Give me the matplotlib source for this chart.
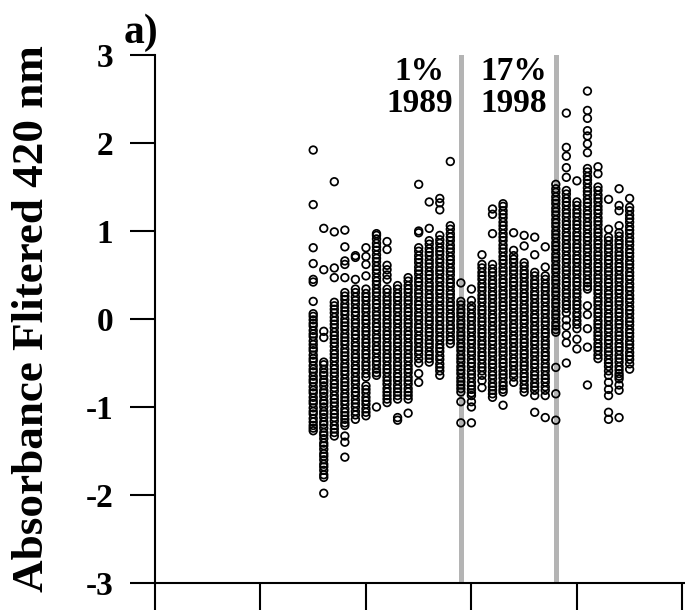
import matplotlib
matplotlib.use("Agg")
import matplotlib.pyplot as plt

years = list(range(1975, 2006))

v1975 = [1.92, 1.30, 0.81, 0.63, 0.45, 0.42, 0.20,
         0.06, 0.03, -0.01, -0.05, -0.08, -0.13, -0.17, -0.20, -0.25, -0.29, -0.33, -0.36, -0.41, -0.45, -0.48,
         -0.53, -0.57, -0.60, -0.65, -0.69, -0.72, -0.77, -0.81, -0.84, -0.89, -0.93, -0.96, -1.01, -1.05, -1.08,
         -1.13, -1.17, -1.21, -1.24, -1.27]
v1976 = [1.03, 0.56, -0.14, -0.21, -1.98,
         -0.49, -0.52, -0.57, -0.61, -0.64, -0.69, -0.72, -0.76, -0.81, -0.84, -0.88, -0.93, -0.96, -1.00, -1.05,
         -1.08, -1.12, -1.17, -1.20, -1.24, -1.29, -1.32, -1.36, -1.41, -1.44, -1.48, -1.53, -1.56, -1.60, -1.65,
         -1.68, -1.72, -1.77, -1.80]
v1977 = [1.56, 0.99, 0.58, 0.47,
         0.19, 0.15, 0.11, 0.07, 0.02, -0.02, -0.06, -0.10, -0.15, -0.19, -0.23, -0.27, -0.31, -0.36, -0.40, -0.44,
         -0.48, -0.53, -0.57, -0.61, -0.65, -0.70, -0.74, -0.78, -0.82, -0.87, -0.91, -0.95, -0.99, -1.04, -1.08,
         -1.12, -1.16, -1.21, -1.25, -1.29, -1.33]
v1978 = [1.01, 0.82, 0.66, 0.62, 0.47, -1.33, -1.40, -1.57,
         0.30, 0.26, 0.22, 0.17, 0.13, 0.09, 0.05, 0.00, -0.04, -0.08, -0.12, -0.17, -0.21, -0.25, -0.29, -0.34,
         -0.38, -0.42, -0.46, -0.51, -0.55, -0.59, -0.63, -0.68, -0.72, -0.76, -0.80, -0.85, -0.89, -0.93, -0.97,
         -1.02, -1.06, -1.10, -1.14, -1.18, -1.21]
v1979 = [0.72, 0.70, 0.45,
         0.34, 0.30, 0.25, 0.21, 0.17, 0.12, 0.08, 0.04, -0.01, -0.05, -0.09, -0.14, -0.18, -0.22, -0.27, -0.31,
         -0.35, -0.40, -0.44, -0.48, -0.53, -0.57, -0.61, -0.66, -0.70, -0.74, -0.79, -0.83, -0.87, -0.92, -0.96,
         -1.00, -1.05, -1.09, -1.14]
v1980 = [0.81, 0.71, 0.62, 0.49,
         0.34, 0.29, 0.25, 0.21, 0.16, 0.12, 0.08, 0.03, -0.01, -0.05, -0.10, -0.14, -0.18, -0.23, -0.27, -0.31,
         -0.36, -0.40, -0.44, -0.49, -0.53, -0.57, -0.62, -0.66, -0.76, -0.80, -0.84, -0.89, -0.93, -0.97, -1.02,
         -1.06, -1.10]
v1981 = [0.97, -1.00,
         0.95, 0.91, 0.86, 0.82, 0.78, 0.73, 0.69, 0.65, 0.60, 0.56, 0.52, 0.47, 0.43, 0.39, 0.34, 0.30, 0.26, 0.21,
         0.17, 0.13, 0.08, 0.04, 0.00, -0.05, -0.09, -0.13, -0.18, -0.22, -0.26, -0.31, -0.35, -0.39, -0.44, -0.48,
         -0.52, -0.57, -0.61, -0.64]
v1982 = [0.88, 0.79, 0.61, 0.56, 0.50, 0.45,
         0.34, 0.30, 0.25, 0.21, 0.17, 0.12, 0.08, 0.04, -0.01, -0.05, -0.09, -0.14, -0.18, -0.22, -0.27, -0.31,
         -0.35, -0.40, -0.44, -0.48, -0.53, -0.57, -0.61, -0.66, -0.70, -0.74, -0.79, -0.83, -0.87, -0.91, -0.95]
v1983 = [-1.12, -1.15,
         0.38, 0.34, 0.29, 0.25, 0.21, 0.16, 0.12, 0.08, 0.03, -0.01, -0.05, -0.10, -0.14, -0.18, -0.23, -0.27,
         -0.31, -0.36, -0.40, -0.44, -0.49, -0.53, -0.57, -0.62, -0.66, -0.70, -0.75, -0.79, -0.83, -0.87, -0.91]
v1984 = [-1.07,
         0.47, 0.43, 0.38, 0.34, 0.30, 0.25, 0.21, 0.17, 0.12, 0.08, 0.04, -0.01, -0.05, -0.09, -0.14, -0.18, -0.22,
         -0.27, -0.31, -0.35, -0.40, -0.44, -0.48, -0.53, -0.57, -0.61, -0.66, -0.70, -0.74, -0.79, -0.83, -0.87,
         -0.91]
v1985 = [1.53, 1.00, 0.98, -0.62, -0.72,
         0.81, 0.77, 0.72, 0.68, 0.64, 0.59, 0.55, 0.51, 0.46, 0.42, 0.38, 0.33, 0.29, 0.25, 0.20, 0.16, 0.12, 0.07,
         0.03, -0.01, -0.06, -0.10, -0.14, -0.19, -0.23, -0.27, -0.32, -0.36, -0.40, -0.45, -0.50]
v1986 = [1.33, 1.03,
         0.89, 0.85, 0.80, 0.76, 0.72, 0.67, 0.63, 0.59, 0.54, 0.50, 0.46, 0.41, 0.37, 0.33, 0.28, 0.24, 0.20, 0.15,
         0.11, 0.07, 0.02, -0.02, -0.06, -0.11, -0.15, -0.19, -0.24, -0.28, -0.32, -0.37, -0.41, -0.45, -0.49]
v1987 = [1.37, 1.32, 1.24,
         0.95, 0.90, 0.86, 0.81, 0.77, 0.73, 0.68, 0.64, 0.59, 0.55, 0.51, 0.46, 0.42, 0.37, 0.33, 0.29, 0.24, 0.20,
         0.15, 0.11, 0.07, 0.02, -0.02, -0.07, -0.11, -0.15, -0.20, -0.24, -0.29, -0.33, -0.37, -0.42, -0.46, -0.51,
         -0.55, -0.59, -0.64]
v1988 = [1.79,
         1.06, 1.02, 0.97, 0.93, 0.89, 0.84, 0.80, 0.76, 0.71, 0.67, 0.63, 0.58, 0.54, 0.50, 0.45, 0.41, 0.37, 0.32,
         0.28, 0.24, 0.19, 0.15, 0.11, 0.06, 0.02, -0.02, -0.07, -0.11, -0.15, -0.20, -0.24, -0.28]
v1989 = [0.41, -0.94, -1.18,
         0.20, 0.16, 0.11, 0.07, 0.03, -0.02, -0.06, -0.10, -0.15, -0.19, -0.23, -0.28, -0.32, -0.36, -0.41, -0.45,
         -0.49, -0.54, -0.58, -0.62, -0.67, -0.71, -0.75, -0.79, -0.83]
v1990 = [0.34, 0.21, -0.94, -1.00, -1.18,
         0.15, 0.11, 0.06, 0.02, -0.02, -0.07, -0.11, -0.15, -0.20, -0.24, -0.28, -0.33, -0.37, -0.41, -0.46, -0.50,
         -0.54, -0.59, -0.63, -0.67, -0.72, -0.76, -0.80, -0.84, -0.87]
v1991 = [0.73, -0.78,
         0.62, 0.58, 0.53, 0.49, 0.45, 0.40, 0.36, 0.32, 0.27, 0.23, 0.19, 0.14, 0.10, 0.06, 0.01, -0.03, -0.07,
         -0.12, -0.16, -0.20, -0.25, -0.29, -0.33, -0.38, -0.42, -0.46, -0.51, -0.55, -0.59, -0.64, -0.70]
v1992 = [1.25, 1.19, 0.97,
         0.62, 0.57, 0.53, 0.49, 0.44, 0.40, 0.36, 0.31, 0.27, 0.23, 0.18, 0.14, 0.10, 0.05, 0.01, -0.03, -0.08,
         -0.12, -0.16, -0.21, -0.25, -0.29, -0.34, -0.38, -0.42, -0.47, -0.51, -0.55, -0.60, -0.64, -0.68, -0.73,
         -0.77, -0.81, -0.85, -0.89]
v1993 = [1.31, -0.98,
         1.28, 1.23, 1.19, 1.15, 1.10, 1.06, 1.02, 0.97, 0.93, 0.89, 0.84, 0.80, 0.76, 0.71, 0.67, 0.63, 0.58, 0.54,
         0.50, 0.45, 0.41, 0.37, 0.32, 0.28, 0.24, 0.19, 0.15, 0.11, 0.06, 0.02, -0.02, -0.07, -0.11, -0.15, -0.20,
         -0.24, -0.28, -0.33, -0.37, -0.41, -0.46, -0.50, -0.54, -0.59, -0.63, -0.67, -0.72, -0.76, -0.80, -0.83]
v1994 = [0.98, 0.78, 0.72,
         0.68, 0.64, 0.59, 0.55, 0.51, 0.46, 0.42, 0.38, 0.33, 0.29, 0.25, 0.20, 0.16, 0.12, 0.07, 0.03, -0.01,
         -0.06, -0.10, -0.14, -0.19, -0.23, -0.27, -0.32, -0.36, -0.40, -0.45, -0.49, -0.53, -0.58, -0.62, -0.66,
         -0.72]
v1995 = [0.95, 0.83,
         0.64, 0.60, 0.55, 0.51, 0.47, 0.42, 0.38, 0.34, 0.29, 0.25, 0.21, 0.16, 0.12, 0.08, 0.03, -0.01, -0.05,
         -0.10, -0.14, -0.18, -0.23, -0.27, -0.31, -0.36, -0.40, -0.44, -0.49, -0.53, -0.57, -0.62, -0.66, -0.70,
         -0.75, -0.79, -0.83]
v1996 = [0.93, 0.73, -1.06,
         0.53, 0.49, 0.44, 0.40, 0.36, 0.31, 0.27, 0.23, 0.18, 0.14, 0.10, 0.05, 0.01, -0.03, -0.08, -0.12, -0.16,
         -0.21, -0.25, -0.29, -0.34, -0.38, -0.42, -0.47, -0.51, -0.55, -0.60, -0.64, -0.68, -0.73, -0.77, -0.81,
         -0.87]
v1997 = [0.82, 0.59, -1.12,
         0.49, 0.45, 0.40, 0.36, 0.32, 0.27, 0.23, 0.19, 0.14, 0.10, 0.06, 0.01, -0.03, -0.07, -0.12, -0.16, -0.20,
         -0.25, -0.29, -0.33, -0.38, -0.42, -0.46, -0.51, -0.55, -0.59, -0.64, -0.68, -0.72, -0.77, -0.81, -0.87]
v1998 = [1.53, -0.55, -0.85, -1.15,
         1.48, 1.44, 1.39, 1.35, 1.31, 1.26, 1.22, 1.18, 1.13, 1.09, 1.05, 1.00, 0.96, 0.92, 0.87, 0.83, 0.79, 0.74,
         0.70, 0.66, 0.61, 0.57, 0.53, 0.48, 0.44, 0.40, 0.35, 0.31, 0.27, 0.22, 0.18, 0.14, 0.09, 0.05, 0.01,
         -0.04, -0.08, -0.12, -0.15]
v1999 = [2.34, 1.95, 1.85, 1.72, 1.61, -0.01, -0.08, -0.18, -0.27, -0.50,
         1.46, 1.42, 1.37, 1.33, 1.29, 1.24, 1.20, 1.16, 1.11, 1.07, 1.03, 0.98, 0.94, 0.90, 0.85, 0.81, 0.77, 0.72,
         0.68, 0.64, 0.59, 0.55, 0.51, 0.46, 0.42, 0.38, 0.33, 0.29, 0.25, 0.20, 0.16, 0.12, 0.07]
v2000 = [1.57, -0.23, -0.34,
         1.33, 1.29, 1.24, 1.20, 1.16, 1.11, 1.07, 1.03, 0.98, 0.94, 0.90, 0.85, 0.81, 0.77, 0.72, 0.68, 0.64, 0.59,
         0.55, 0.51, 0.46, 0.42, 0.38, 0.33, 0.29, 0.25, 0.20, 0.16, 0.12, 0.07, 0.03, -0.02, -0.06, -0.11]
v2001 = [2.59, 2.37, 2.28, 2.14, 2.08, 1.99, 1.89, 0.15, 0.05, -0.11, -0.32, -0.75,
         1.71, 1.67, 1.62, 1.58, 1.54, 1.49, 1.45, 1.41, 1.36, 1.32, 1.28, 1.23, 1.19, 1.15, 1.10, 1.06, 1.02, 0.97,
         0.93, 0.89, 0.84, 0.80, 0.76, 0.71, 0.67, 0.63, 0.58, 0.54, 0.50, 0.45, 0.41, 0.37, 0.34]
v2002 = [1.73, 1.65,
         1.50, 1.46, 1.41, 1.37, 1.33, 1.28, 1.24, 1.20, 1.15, 1.11, 1.07, 1.02, 0.98, 0.94, 0.89, 0.85, 0.81, 0.76,
         0.72, 0.68, 0.63, 0.59, 0.55, 0.50, 0.46, 0.42, 0.37, 0.33, 0.29, 0.24, 0.20, 0.16, 0.11, 0.07, 0.03,
         -0.02, -0.06, -0.10, -0.15, -0.19, -0.23, -0.28, -0.32, -0.36, -0.41, -0.45]
v2003 = [1.36, 1.02, -0.72, -0.80, -0.87, -1.06, -1.14,
         0.93, 0.89, 0.84, 0.80, 0.76, 0.71, 0.67, 0.63, 0.58, 0.54, 0.50, 0.45, 0.41, 0.37, 0.32, 0.28, 0.24, 0.19,
         0.15, 0.11, 0.06, 0.02, -0.02, -0.07, -0.11, -0.15, -0.20, -0.24, -0.28, -0.33, -0.37, -0.41, -0.46, -0.50,
         -0.54, -0.59, -0.64]
v2004 = [1.48, 1.29, 1.23, 1.06, -0.68, -0.75, -0.81, -1.12,
         0.98, 0.94, 0.89, 0.85, 0.81, 0.76, 0.72, 0.68, 0.63, 0.59, 0.55, 0.50, 0.46, 0.42, 0.37, 0.33, 0.29, 0.24,
         0.20, 0.16, 0.11, 0.07, 0.03, -0.02, -0.06, -0.10, -0.15, -0.19, -0.23, -0.28, -0.32, -0.36, -0.41, -0.45,
         -0.49, -0.54, -0.58, -0.62, -0.65]
v2005 = [1.37,
         1.27, 1.23, 1.18, 1.14, 1.10, 1.05, 1.01, 0.97, 0.92, 0.88, 0.84, 0.79, 0.75, 0.71, 0.66, 0.62, 0.58, 0.53,
         0.49, 0.45, 0.40, 0.36, 0.32, 0.27, 0.23, 0.19, 0.14, 0.10, 0.06, 0.01, -0.03, -0.07, -0.12, -0.16, -0.20,
         -0.25, -0.29, -0.33, -0.38, -0.42, -0.46, -0.51, -0.57]

columns = [v1975, v1976, v1977, v1978, v1979, v1980, v1981, v1982, v1983, v1984, v1985, v1986, v1987,
           v1988, v1989, v1990, v1991, v1992, v1993, v1994, v1995, v1996, v1997, v1998, v1999, v2000,
           v2001, v2002, v2003, v2004, v2005]

break_years = [1989, 1998]
break_labels = ["1%\n1989", "17%\n1998"]
label_x = [1985.1, 1994.0]
xticks = [1960, 1970, 1980, 1990, 2000, 2010]
yticks = [-3, -2, -1, 0, 1, 2, 3]

plt.rcParams['font.family'] = ['Liberation Serif', 'DejaVu Serif']
plt.rcParams['font.weight'] = 'bold'

fig = plt.figure(figsize=(6.85, 6.10), dpi=100)
ax = fig.add_axes([155 / 685, 27 / 610, 530 / 685, 528 / 610])

for yr in break_years:
    ax.axvline(yr, color='#b4b4b4', lw=3.6, zorder=1)

xs, ys = [], []
for yr, vals in zip(years, columns):
    xs.extend([yr] * len(vals))
    ys.extend(vals)
ax.scatter(xs, ys, s=30, facecolors='none', edgecolors='black', linewidths=1.25, zorder=3)

for lx, txt in zip(label_x, break_labels):
    ax.text(lx, 2.63, txt, ha='center', va='center', fontsize=24, fontweight='bold',
            linespacing=1.05, zorder=4)

ax.set_xlim(1960, 2010.25)
ax.set_ylim(-3, 3)
ax.set_xticks(xticks)
ax.set_xticklabels([])
ax.set_yticks(yticks)
ax.set_yticklabels([str(t) for t in yticks], fontsize=24, fontweight='bold')
ax.tick_params(axis='x', direction='out', length=20, width=1.5)
ax.tick_params(axis='y', direction='out', length=18, width=1.5, pad=12)
for s in ['top', 'right']:
    ax.spines[s].set_visible(False)
for s in ['left', 'bottom']:
    ax.spines[s].set_linewidth(1.5)
ax.spines['bottom'].set_bounds(1960, 2010.25)
ax.set_ylabel('Absorbance Flitered 420 nm', fontsize=32.5, fontweight='bold')
ax.yaxis.set_label_coords((52 - 155) / 530, 0.5)

fig.text(158 / 685, 1 - 43 / 610, 'a)', ha='right', va='baseline', fontsize=30, fontweight='bold')

fig.savefig('out.png', dpi=100)
